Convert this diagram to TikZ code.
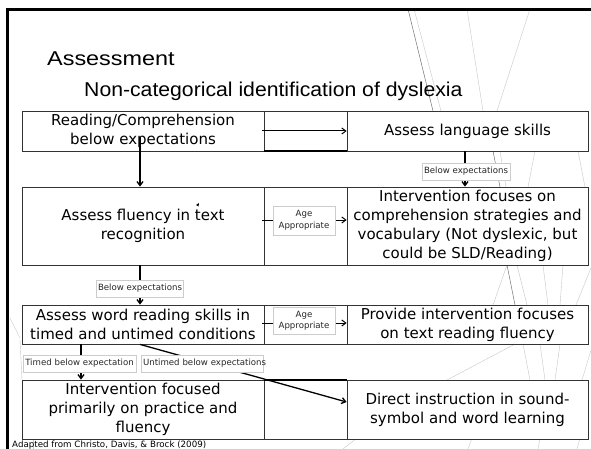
\documentclass[tikz,border=0pt]{standalone}
\usepackage{fontspec}
\usepackage{graphicx}
\setmainfont{Liberation Sans}
\newfontfamily\tah{DejaVu Sans}
\usetikzlibrary{arrows.meta}
\begin{document}
\begin{tikzpicture}[x=1pt,y=-1pt,
  cell/.style={draw=black!80, line width=0.8pt, fill=white, inner sep=0pt, align=center,
    font=\tah\fontsize{15}{19}\selectfont},
  mid/.style={draw=black!80, line width=0.8pt, fill=white, inner sep=0pt, minimum width=83pt},
  lab/.style={draw=black!20, line width=0.6pt, fill=white, inner sep=2pt, align=center,
    text=black!85, font=\tah\fontsize{8.6}{11.5}\selectfont},
  arr/.style={-{Straight Barb[length=4pt,width=6pt]}, line width=1pt},
  deco/.style={black!22, line width=0.4pt},
  decodark/.style={black!55, line width=0.5pt}]
\useasboundingbox (0,0) rectangle (591,449);
\clip (0,0) rectangle (591,449);
\fill[white] (0,0) rectangle (591,449);

% decorative background lines
\draw[decodark] (408,9) -- (433,111);
\draw[deco] (414,9) -- (441,111);
\draw[deco] (467,9) -- (483,111);
\draw[deco] (530,9) -- (497,111);
\draw[decodark] (493,151) -- (500,187);
\draw[deco] (500,151) -- (506,187);
\draw[deco] (535,151) -- (528,187);
\draw[deco] (578,151) -- (585,187);
\draw[decodark] (507,265) -- (515,305);
\draw[deco] (507,265) -- (493,305);
\draw[deco] (517,265) -- (527,305);
\draw[deco] (543,265) -- (548,305);
\draw[deco] (563,265) -- (560,305);
\draw[deco] (591,268) -- (576,305);
\draw[deco] (515,344) -- (447,380);
\draw[deco] (523,344) -- (530,380);
\draw[deco] (540,344) -- (545,380);
\draw[deco] (560,344) -- (555,380);
\draw[deco] (591,350) -- (582,380);
\draw[deco] (357,438) -- (343,449);
\draw[deco] (472,438) -- (468,449);
\draw[deco] (540,438) -- (538,449);
\draw[deco] (580,438) -- (577,449);
\draw[deco] (10,318) -- (20,338);
\draw[deco] (20,340) -- (22,380);
\draw[deco] (33,439) -- (33,449);

% slide frame
\draw[line width=2.4pt] (7.5,449) -- (7.5,9.5) -- (591,9.5);

% title
\node[anchor=base west, inner sep=0pt, font=\fontsize{20}{24}\selectfont] (title) at (47,66)
  {\scalebox{1.17}[1]{Assessment}};
\node[anchor=base west, inner sep=0pt, font=\fontsize{20}{24}\selectfont] (subtitle) at (84,97)
  {\scalebox{1.06}[1]{Non-categorical identification of dyslexia}};

% row 1
\node[cell, minimum width=242pt, minimum height=40pt] (r1l) at (143,131)
  {Reading/Comprehension\\below expectations};
\node[mid, minimum height=40pt] (r1m) at (305.5,131) {};
\node[cell, minimum width=241pt, minimum height=40pt] (r1r) at (467.5,131)
  {Assess language skills};
\draw[line width=2pt] (r1m.south west) -- (r1m.south east);

% row 2
\node[cell, minimum width=242pt, minimum height=78pt] (r2l) at (143,226)
  {Assess fluency in text\\recognition};
\node[mid, minimum height=78pt] (r2m) at (305.5,226) {};
\node[cell, minimum width=241pt, minimum height=78pt] (r2r) at (467.5,226)
  {Intervention focuses on\\comprehension strategies and\\vocabulary (Not dyslexic, but\\could be SLD/Reading)};
\fill (196,205) -- (199,203) -- (198.5,206.5) -- cycle;

% row 3
\node[cell, minimum width=242pt, minimum height=39pt] (r3l) at (143,324.5)
  {Assess word reading skills in\\timed and untimed conditions};
\node[mid, minimum height=39pt] (r3m) at (305.5,324.5) {};
\node[cell, minimum width=241pt, minimum height=39pt] (r3r) at (467.5,324.5)
  {Provide intervention focuses\\on text reading fluency};

% row 4
\node[cell, minimum width=242pt, minimum height=59pt] (r4l) at (143,409.5)
  {Intervention focused\\primarily on practice and\\fluency};
\node[mid, minimum height=59pt] (r4m) at (305.5,409.5) {};
\node[cell, minimum width=241pt, minimum height=59pt] (r4r) at (467.5,409.5)
  {Direct instruction in sound-\\symbol and word learning};
\draw[line width=2pt] (r4m.north west) -- (r4m.north east);

% connectors
\draw[arr] ([xshift=-2pt]r1l.east) -- (r1r.west);
\draw[arr, line width=1.3pt] ([xshift=-3pt,yshift=-6pt]r1l.center) -- ([xshift=-3pt]r2l.north);
\draw[arr, line width=1.3pt] ([xshift=-2.5pt]r1r.south) -- ([xshift=-2.5pt]r2r.north);
\draw[arr] ([xshift=-2pt,yshift=6pt]r2l.east) -- ([yshift=6pt]r2r.west);
\draw[arr, line width=1.3pt] ([xshift=-3pt]r2l.south) -- ([xshift=-3pt]r3l.north);
\draw[arr] ([xshift=-2pt,yshift=1.5pt]r3l.east) -- ([yshift=1.5pt]r3r.west);
\draw[arr, line width=1.3pt] ([xshift=-62pt]r3l.south) -- ([xshift=-62pt]r4l.north);
\draw[arr, line width=1.3pt] ([xshift=-3pt]r3l.south) -- ([yshift=7.5pt]r4r.west);

% labels
\node[lab, text width=84pt, minimum height=17pt] (lb1) at (466,171.5) {\mbox{Below expectations}};
\node[lab, minimum width=62pt, minimum height=29pt] (lb2) at (304,220.5) {Age\\Appropriate};
\node[lab, text width=83pt, minimum height=17pt] (lb3) at (139.5,288.5) {\mbox{Below expectations}};
\node[lab, minimum width=62pt, minimum height=27pt] (lb4) at (304,321) {Age\\Appropriate};
\node[lab, text width=109pt, minimum height=17pt] (lb5) at (79.5,363.5) {\mbox{Timed below expectation}};
\node[lab, text width=118pt, minimum height=17pt] (lb6) at (202,363.5) {\mbox{Untimed below expectations}};

% footer
\node[anchor=base west, inner sep=0pt, font=\tah\fontsize{8.7}{11}\selectfont] (foot) at (12,447.5)
  {Adapted from Christo, Davis, \& Brock (2009)};
\end{tikzpicture}
\end{document}
